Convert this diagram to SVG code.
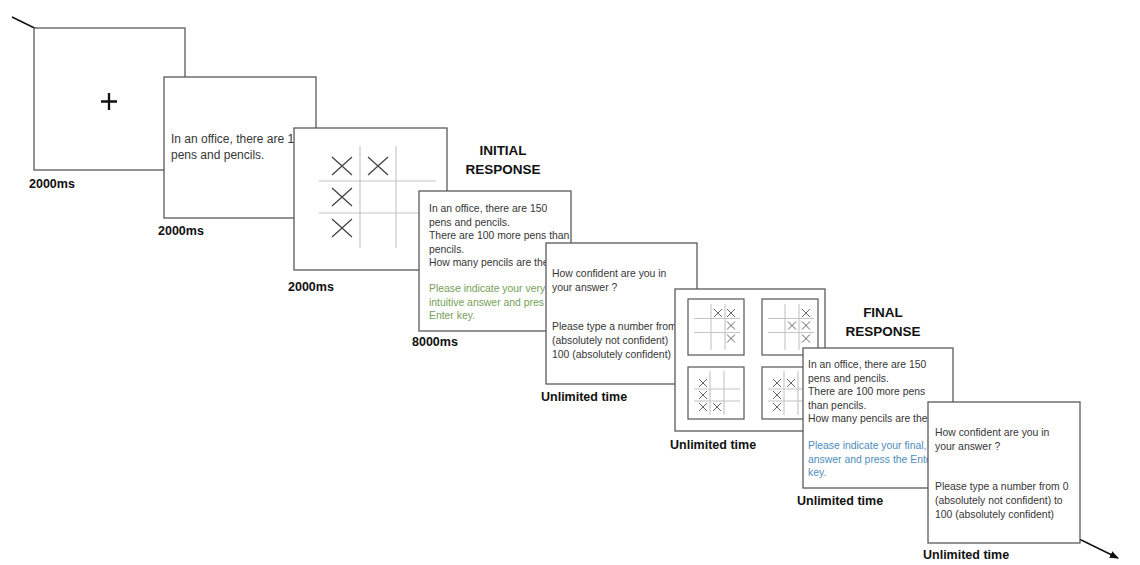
<svg xmlns="http://www.w3.org/2000/svg" width="1140" height="565" viewBox="0 0 1140 565">
<style>
.panel{fill:#fff;stroke:#5a5a5a;stroke-width:1.3}
.sub{fill:#fff;stroke:#555;stroke-width:1.2}
.grid{stroke:#c4c4c4;stroke-width:1.1;fill:none}
.x{stroke:#444;stroke-width:1.3;fill:none}
.xs{stroke:#666;stroke-width:1;fill:none}
.t{font-family:"Liberation Sans",Arial,sans-serif;font-size:10.4px;fill:#363636}
.t2{font-family:"Liberation Sans",Arial,sans-serif;font-size:12px;fill:#363636}
.g{fill:#76a157}
.b{fill:#4f8dbd}
.lbl{font-family:"Liberation Sans",Arial,sans-serif;font-size:12.5px;font-weight:bold;fill:#111}
.head{font-family:"Liberation Sans",Arial,sans-serif;font-size:13.5px;font-weight:bold;fill:#111;text-anchor:middle}
</style>
<defs>
<marker id="ah" viewBox="0 0 10 10" refX="9" refY="5" markerWidth="9" markerHeight="9" orient="auto" markerUnits="userSpaceOnUse">
<path d="M0,1 L10,5 L0,9 z" fill="#111"/>
</marker>
<path id="bx" d="M-4,-4 L4,4 M4,-4 L-4,4"/>
<path id="bigx" d="M-10,-9 L10,9 M10,-9 L-10,9"/>
</defs>
<rect width="1140" height="565" fill="#fff"/>
<g id="connectors">
<line x1="12" y1="17" x2="1118" y2="558" stroke="#111" stroke-width="1.5" marker-end="url(#ah)"/>
</g>
<g id="panel1">
<rect class="panel" x="34" y="28" width="151" height="142"/>
<path d="M101,101.5 H117 M109,93 V110" stroke="#111" stroke-width="2.3"/>
<text class="lbl" x="29" y="188">2000ms</text>
</g>
<g id="panel2">
<rect class="panel" x="164" y="77" width="152" height="141"/>
<text class="t2" x="171" y="143">In an office, there are 1</text>
<text class="t2" x="171" y="159">pens and pencils.</text>
<text class="lbl" x="158" y="235">2000ms</text>
</g>
<g id="panel3">
<rect class="panel" x="294" y="128" width="153" height="142"/>
<path class="grid" d="M360,146 V248 M396,146 V248 M319,181 H436 M319,213 H436"/>
<use href="#bigx" class="x" x="342" y="166"/>
<use href="#bigx" class="x" x="378" y="166"/>
<use href="#bigx" class="x" x="342" y="197"/>
<use href="#bigx" class="x" x="342" y="228"/>
<text class="lbl" x="288" y="291">2000ms</text>
</g>
<g id="label-initial">
<text class="head" x="503" y="155">INITIAL</text>
<text class="head" x="503" y="174">RESPONSE</text>
</g>
<g id="panel4">
<rect class="panel" x="419" y="191" width="152" height="140"/>
<text class="t" x="429" y="212">In an office, there are 150</text>
<text class="t" x="429" y="225.5">pens and pencils.</text>
<text class="t" x="429" y="239">There are 100 more pens than</text>
<text class="t" x="429" y="252.5">pencils.</text>
<text class="t" x="429" y="266">How many pencils are the</text>
<text class="t g" x="429" y="292">Please indicate your very</text>
<text class="t g" x="429" y="305.5">intuitive answer and pres</text>
<text class="t g" x="429" y="319">Enter key.</text>
<text class="lbl" x="412" y="346">8000ms</text>
</g>
<g id="panel5">
<rect class="panel" x="546" y="243" width="151" height="141"/>
<text class="t" x="552" y="277">How confident are you in</text>
<text class="t" x="552" y="291">your answer ?</text>
<text class="t" x="552" y="330">Please type a number from</text>
<text class="t" x="552" y="344">(absolutely not confident)</text>
<text class="t" x="552" y="358">100 (absolutely confident)</text>
<text class="lbl" x="541" y="401">Unlimited time</text>
</g>
<g id="panel6">
<rect class="panel" x="675" y="289" width="150" height="142"/>
<g id="choice-tl">
<rect class="sub" x="688" y="299" width="56" height="56"/>
<path class="grid" d="M711,304 V350 M725,304 V350 M694,318.5 H740 M694,332.5 H740"/>
<use href="#bx" class="xs" x="718" y="313"/>
<use href="#bx" class="xs" x="731" y="313"/>
<use href="#bx" class="xs" x="731" y="325.5"/>
<use href="#bx" class="xs" x="731" y="338.5"/>
</g>
<g id="choice-tr">
<rect class="sub" x="762" y="299" width="56" height="56"/>
<path class="grid" d="M785,304 V350 M799,304 V350 M768,318.5 H814 M768,332.5 H814"/>
<use href="#bx" class="xs" x="806" y="313"/>
<use href="#bx" class="xs" x="792" y="325.5"/>
<use href="#bx" class="xs" x="806" y="325.5"/>
<use href="#bx" class="xs" x="806" y="338.5"/>
</g>
<g id="choice-bl">
<rect class="sub" x="688" y="367" width="56" height="52"/>
<path class="grid" d="M710,371 V415 M724,371 V415 M694,389 H740 M694,401 H740"/>
<use href="#bx" class="xs" x="703" y="383"/>
<use href="#bx" class="xs" x="703" y="395"/>
<use href="#bx" class="xs" x="703" y="407"/>
<use href="#bx" class="xs" x="717" y="407"/>
</g>
<g id="choice-br">
<rect class="sub" x="762" y="367" width="56" height="52" stroke="#333" stroke-width="2"/>
<path class="grid" d="M784,371 V415 M798,371 V415 M768,389 H814 M768,401 H814"/>
<use href="#bx" class="xs" x="777" y="383"/>
<use href="#bx" class="xs" x="791" y="383"/>
<use href="#bx" class="xs" x="777" y="395"/>
<use href="#bx" class="xs" x="777" y="407"/>
</g>
<text class="lbl" x="670" y="449">Unlimited time</text>
</g>
<g id="label-final">
<text class="head" x="883" y="317">FINAL</text>
<text class="head" x="883" y="336">RESPONSE</text>
</g>
<g id="panel7">
<rect class="panel" x="803" y="348" width="150" height="140"/>
<text class="t" x="808" y="368">In an office, there are 150</text>
<text class="t" x="808" y="382">pens and pencils.</text>
<text class="t" x="808" y="395">There are 100 more pens</text>
<text class="t" x="808" y="408.5">than pencils.</text>
<text class="t" x="808" y="422">How many pencils are the</text>
<text class="t b" x="808" y="449">Please indicate your final,</text>
<text class="t b" x="808" y="462.5">answer and press the Ente</text>
<text class="t b" x="808" y="476">key.</text>
<text class="lbl" x="797" y="505">Unlimited time</text>
</g>
<g id="panel8">
<rect class="panel" x="928" y="402" width="152" height="141"/>
<text class="t" x="935" y="436">How confident are you in</text>
<text class="t" x="935" y="450">your answer ?</text>
<text class="t" x="935" y="490">Please type a number from 0</text>
<text class="t" x="935" y="504">(absolutely not confident) to</text>
<text class="t" x="935" y="518">100 (absolutely confident)</text>
<text class="lbl" x="923" y="559">Unlimited time</text>
</g>
</svg>
